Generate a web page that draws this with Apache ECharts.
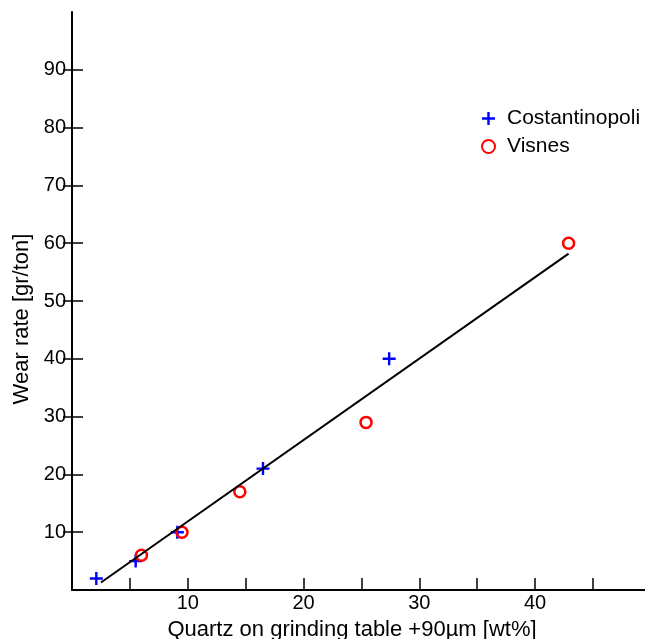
<!DOCTYPE html>
<html>
<head>
<meta charset="utf-8">
<script src="https://cdn.jsdelivr.net/npm/echarts@6/dist/echarts.min.js"></script>
<style>
  html, body { margin: 0; padding: 0; background: #fff; }
  #chart { width: 645px; height: 639px; }
</style>
</head>
<body>
<div id="chart"></div>
<script>
// measured points
const costantinopoli = [[2.1, 2], [5.5, 5], [9.1, 10], [16.5, 21], [27.4, 40]];
const visnes = [[6.0, 6], [9.5, 10], [14.5, 17], [25.4, 29], [42.9, 60]];
// regression line end points
const fitLine = [[2.5, 1.3], [42.9, 58.2]];

const xTicks = [5, 10, 15, 20, 25, 30, 35, 40, 45];
const xLabels = [10, 20, 30, 40];
const yTicks = [10, 20, 30, 40, 50, 60, 70, 80, 90];

const font = 'Liberation Sans, Arial, sans-serif';
const plus = 'path://M0,5.7H14V8.3H0Z M5.7,0H8.3V14H5.7Z';

const chart = echarts.init(document.getElementById('chart'));
chart.setOption({
    animation: false,
    textStyle: { fontFamily: font, color: '#000' },
    grid: { left: 72, right: 0, top: 12, bottom: 49, outerBoundsMode: 'none' },
    legend: {
        orient: 'vertical',
        left: 481,
        top: 108,
        padding: 0,
        itemWidth: 13,
        itemHeight: 13,
        itemGap: 7,
        textStyle: { fontSize: 21, color: '#000', fontFamily: font, padding: [0, 0, 0, 7] },
        data: ['Costantinopoli', 'Visnes']
    },
    xAxis: [{
        type: 'value',
        min: 0,
        max: 49.5,
        splitLine: { show: false },
        axisLine: { lineStyle: { color: '#000', width: 2 } },
        axisTick: { inside: true, length: 12, customValues: xTicks, lineStyle: { color: '#000', width: 1.5 } },
        axisLabel: { customValues: xLabels, fontSize: 20, color: '#000', margin: 3 },
        name: 'Quartz on grinding table +90µm [wt%]',
        nameLocation: 'middle',
        nameGap: 29,
        nameTextStyle: { fontSize: 22, color: '#000', padding: [0, 13, 0, 0] }
    }, {
        type: 'value',
        position: 'top',
        min: 0,
        max: 49.5,
        splitLine: { show: false },
        axisLine: { lineStyle: { color: '#000', width: 1.5 } },
        axisTick: { show: false },
        axisLabel: { show: false }
    }],
    yAxis: [{
        type: 'value',
        min: 0,
        max: 100,
        splitLine: { show: false },
        axisLine: { lineStyle: { color: '#000', width: 2 } },
        axisTick: { inside: true, length: 11, customValues: yTicks, lineStyle: { color: '#000', width: 1.5 } },
        axisLabel: { customValues: yTicks, fontSize: 20, color: '#000', margin: 6 },
        name: 'Wear rate [gr/ton]',
        nameLocation: 'middle',
        nameRotate: 90,
        nameGap: 38,
        nameTextStyle: { fontSize: 22, color: '#000', padding: [0, 36, 0, 0] }
    }, {
        type: 'value',
        position: 'left',
        min: 0,
        max: 100,
        splitLine: { show: false },
        axisLine: { show: false },
        axisTick: { length: 9, customValues: yTicks, lineStyle: { color: '#000', width: 1.5 } },
        axisLabel: { show: false }
    }],
    series: [{
        type: 'line',
        data: fitLine,
        symbol: 'none',
        silent: true,
        lineStyle: { color: '#000', width: 2 }
    }, {
        name: 'Costantinopoli',
        type: 'scatter',
        data: costantinopoli,
        symbol: plus,
        symbolSize: 13,
        itemStyle: { color: '#0000ff', opacity: 1 }
    }, {
        name: 'Visnes',
        type: 'scatter',
        data: visnes,
        symbol: 'circle',
        symbolSize: 11,
        itemStyle: { color: 'rgba(0,0,0,0)', borderColor: '#ff0000', borderWidth: 2.5, opacity: 1 }
    }]
});
</script>
</body>
</html>
